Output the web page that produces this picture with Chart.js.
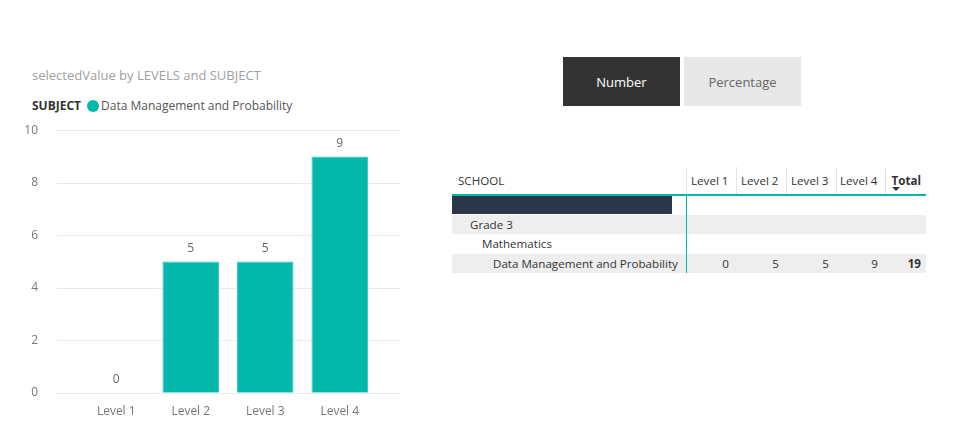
<!DOCTYPE html>
<html>
<head>
<meta charset="utf-8">
<script src="https://cdn.jsdelivr.net/npm/chart.js@4"></script>
<style>
  body { margin: 0; width: 961px; height: 448px; background: #fff; font-family: "Segoe UI", "Open Sans", sans-serif; position: relative; overflow: hidden; }
  .title { position: absolute; left: 32px; top: 66px; font-size: 13px; color: #a0a0a0; white-space: nowrap; }
  .legend { position: absolute; left: 32px; top: 97px; font-size: 12px; color: #555; white-space: nowrap; }
  .legend b { color: #333; font-weight: 700; margin-right: 6px; }
  .legend .dot { display: inline-block; width: 12px; height: 12px; border-radius: 50%; background: #01B8AA; vertical-align: -2px; margin-right: 2px; }
  #chart { position: absolute; left: 0; top: 90px; }
  .btn { position: absolute; top: 57px; height: 49px; width: 117px; font-size: 13px; display: flex; align-items: center; justify-content: center; }
  .btn.on { left: 563px; background: #333; color: #fff; }
  .btn.off { left: 684px; background: #e8e8e8; color: #666; }
  table { position: absolute; left: 452px; top: 167px; border-collapse: collapse; table-layout: fixed; width: 474px; font-size: 11.6px; color: #333; }
  td, th { padding: 0; height: 19.5px; white-space: nowrap; box-sizing: border-box; }
  th { font-weight: 400; height: 28px; text-align: right; padding-right: 7px; border-left: 1px solid #e4e4e4; border-bottom: 2px solid #01B8AA; }
  th.school { text-align: left; padding-left: 6px; border-left: none; }
  th.total { font-weight: 700; position: relative; padding-right: 5px; }
  th.total:after { content: ""; position: absolute; left: 6px; bottom: 3px; border-left: 4px solid transparent; border-right: 4px solid transparent; border-top: 4px solid #333; }
  td.num { text-align: right; padding-right: 7px; }
  td.first { border-right: 1px solid #01B8AA; overflow: hidden; }
  tr.grey td { background: #eeeeee; }
</style>
</head>
<body>
<div class="title">selectedValue by LEVELS and SUBJECT</div>
<div class="legend"><b>SUBJECT</b><span class="dot"></span>Data Management and Probability</div>
<canvas id="chart" width="410" height="343" style="width:410px;height:343px"></canvas>
<div class="btn on">Number</div>
<div class="btn off">Percentage</div>
<table id="matrix"></table>
<script>
const levels = ['Level 1', 'Level 2', 'Level 3', 'Level 4'];
const values = [0, 5, 5, 9];
const yTicks = [0, 2, 4, 6, 8, 10];
const subject = 'Data Management and Probability';

// matrix table
const table = document.getElementById('matrix');
const colWidths = [234, 50, 50, 50, 49, 41];
let html = '<colgroup>' + colWidths.map(w => `<col style="width:${w}px">`).join('') + '</colgroup>';
html += '<tr><th class="school">SCHOOL</th>';
levels.forEach(l => { html += `<th>${l}</th>`; });
html += '<th class="total">Total</th></tr>';
html += '<tr><td class="first"><div style="background:#2b3648;height:18px;width:220px"></div></td><td colspan="5"></td></tr>';
html += '<tr class="grey"><td class="first" style="padding-left:18px">Grade 3</td><td colspan="5"></td></tr>';
html += '<tr><td class="first" style="padding-left:30px">Mathematics</td><td colspan="5"></td></tr>';
html += `<tr class="grey"><td class="first" style="padding-left:41px">${subject}</td>`;
values.forEach(v => { html += `<td class="num">${v}</td>`; });
html += `<td class="num" style="font-weight:700;padding-right:5px">${values.reduce((a, b) => a + b, 0)}</td></tr>`;
table.innerHTML = html;

// grid lines wider than the bar area
const gridPlugin = {
  id: 'wideGrid',
  beforeDatasetsDraw(chart) {
    const { ctx, chartArea, scales } = chart;
    ctx.save();
    ctx.strokeStyle = '#e9e9e9';
    ctx.lineWidth = 1;
    yTicks.forEach(t => {
      const y = Math.round(scales.y.getPixelForValue(t)) + 0.5;
      ctx.beginPath();
      ctx.moveTo(chartArea.left - 22, y);
      ctx.lineTo(chartArea.right + 24, y);
      ctx.stroke();
    });
    ctx.restore();
  }
};

const labelPlugin = {
  id: 'barLabels',
  afterDatasetsDraw(chart) {
    const { ctx } = chart;
    ctx.save();
    ctx.font = '12px "Segoe UI", "Open Sans", sans-serif';
    ctx.fillStyle = '#666';
    ctx.textAlign = 'center';
    ctx.textBaseline = 'bottom';
    chart.getDatasetMeta(0).data.forEach((bar, i) => {
      ctx.fillText(values[i], bar.x, bar.y - 7);
    });
    ctx.restore();
  }
};

const chart = new Chart(document.getElementById('chart'), {
  type: 'bar',
  data: {
    labels: levels,
    datasets: [{
      label: subject,
      data: values,
      backgroundColor: '#01B8AA',
      borderColor: '#3cc8bd',
      borderWidth: 1,
      categoryPercentage: 0.76,
      barPercentage: 1
    }]
  },
  options: {
    responsive: false,
    animation: false,
    layout: { padding: { top: 10, right: 33, left: 0, bottom: 0 } },
    plugins: { legend: { display: false }, tooltip: { enabled: false } },
    scales: {
      x: {
        grid: { display: false },
        border: { display: false },
        ticks: { color: '#777', font: { size: 12, family: '"Segoe UI", "Open Sans", sans-serif' }, padding: 4 },
        afterFit(axis) { axis.height = 27; }
      },
      y: {
        min: 0,
        max: 10,
        grid: { display: false },
        border: { display: false },
        afterBuildTicks(axis) { axis.ticks = yTicks.map(v => ({ value: v })); },
        ticks: { color: '#777', font: { size: 12, family: '"Segoe UI", "Open Sans", sans-serif' }, padding: 33 },
        afterFit(axis) { axis.width = 79; }
      }
    }
  },
  plugins: [gridPlugin, labelPlugin]
});
</script>
</body>
</html>
